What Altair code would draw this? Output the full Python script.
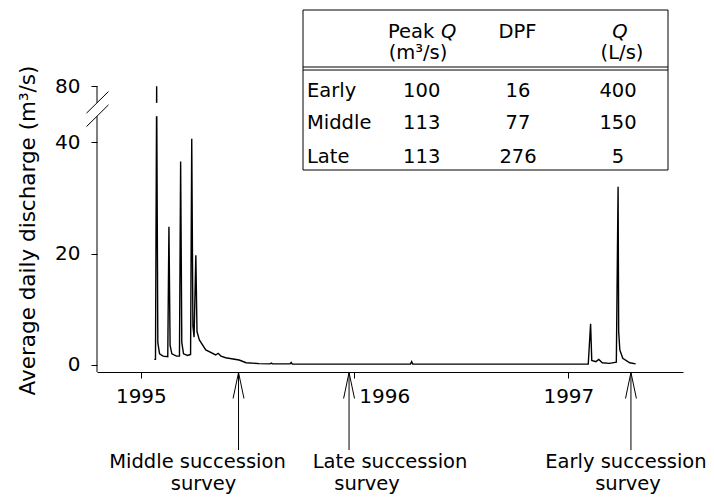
import altair as alt
import pandas as pd

# ---------------- data ----------------
dates = [
    "1995-01-24", "1995-01-26", "1995-01-28", "1995-01-30", "1995-02-02", "1995-02-08",
    "1995-02-16", "1995-02-18", "1995-02-20", "1995-02-23", "1995-03-03", "1995-03-08",
    "1995-03-10", "1995-03-12", "1995-03-15", "1995-03-22", "1995-03-27", "1995-03-29",
    "1995-03-31", "1995-04-02", "1995-04-05", "1995-04-07", "1995-04-11", "1995-04-22",
    "1995-05-09", "1995-05-13", "1995-05-18", "1995-05-26", "1995-06-18", "1995-06-30",
    "1995-07-22", "1995-08-10", "1995-08-12", "1995-08-14", "1995-09-13", "1995-09-15",
    "1995-09-17", "1996-04-06", "1996-04-08", "1996-04-10", "1997-02-04", "1997-02-08",
    "1997-02-10", "1997-02-17", "1997-02-22", "1997-02-28", "1997-03-12", "1997-03-24",
    "1997-03-27", "1997-03-28", "1997-03-30", "1997-04-04", "1997-04-16", "1997-04-26",
]
discharge = [
    1.0, 1.0, 80.0, 4.0, 2.0, 1.6,
    1.5, 24.8, 3.5, 2.0, 1.6, 1.6,
    36.5, 4.0, 2.0, 1.7, 1.9, 40.6,
    7.0, 5.0, 19.7, 6.0, 4.5, 2.7,
    1.8, 2.1, 1.6, 1.3, 0.9, 0.4,
    0.25, 0.2, 0.35, 0.2, 0.2, 0.45,
    0.15, 0.15, 0.6, 0.15, 0.15, 7.4,
    0.8, 0.6, 1.0, 0.4, 0.3, 0.5,
    32.0, 6.0, 2.7, 1.2, 0.4, 0.2,
]
survey_names = ["Middle", "Late", "Early"]
survey_dates = ["1995-06-17", "1995-12-23", "1997-04-18"]
year_ticks = [1995, 1996, 1997]
y_ticks = [0, 20, 40, 80]
table_rows = ["Early", "Middle", "Late"]
peak_q = [100, 113, 113]
dpf = [16, 77, 276]
base_q = [400, 150, 5]

# ---------------- layout / style ----------------
FONT = "DejaVu Sans"
W, H = 586, 362
BREAK_LO, BREAK_HI, BREAK_TOP = 45, 80, 50   # values above BREAK_LO are compressed


def disp(v):
    return v if v <= BREAK_LO else BREAK_LO + (v - BREAK_LO) * (BREAK_TOP - BREAK_LO) / (BREAK_HI - BREAK_LO)


calc_expr = (f"datum.q <= {BREAK_LO} ? datum.q : {BREAK_LO} + (datum.q - {BREAK_LO}) * "
             f"{(BREAK_TOP - BREAK_LO) / (BREAK_HI - BREAK_LO)}")

label_map = " : ".join([f"datum.value == {disp(v)} ? '{v}'" for v in y_ticks]) + " : ''"

xscale = alt.Scale(type="utc",
                   domain=[alt.DateTime(year=1994, month=10, date=18, utc=True),
                           alt.DateTime(year=1997, month=7, date=16, utc=True)])
xaxis = alt.Axis(values=[alt.DateTime(year=y, month=1, date=1, utc=True) for y in year_ticks],
                 labelExpr="utcFormat(datum.value, '%Y')", title=None, grid=False,
                 tickSize=6, labelPadding=8, labelFlush=False,
                 labelOffset={"condition": {"test": "utcyear(datum.value) == 1996", "value": 30}, "value": 0})
yscale = alt.Scale(domain=[-1.257, 63.7], nice=False, zero=False)
yaxis = alt.Axis(values=[disp(v) for v in y_ticks], labelExpr=label_map, domain=False, grid=False,
                 tickSize=6, labelPadding=11, title="Average daily discharge (m³/s)",
                 titleX=-69, titleY=220, titleAngle=270, titleAlign="center", titleBaseline="middle")


def X(f):
    return alt.X(f, type="temporal", scale=xscale, axis=xaxis)


def Y(f):
    return alt.Y(f, type="quantitative", scale=yscale, axis=yaxis)


df = pd.DataFrame({"date": dates, "q": discharge})

line = alt.Chart(df).transform_calculate(d=calc_expr).mark_line(
    color="black", strokeWidth=1.4).encode(x=X("date"), y=Y("d"))

# gap in the first peak at the axis break
mask = alt.Chart(pd.DataFrame({"start": ["1995-01-20"], "end": ["1995-02-05"],
                               "lo": [44.64], "hi": [47.04]})).mark_rect(color="white").encode(
    x=X("start"), x2="end:T", y=Y("lo"), y2="hi")

# y axis line in two pieces with break marks
yline = alt.Chart(pd.DataFrame({"a": [BREAK_TOP, 44.64], "b": [47.04, -1.257]})).mark_rule(
    color="black", strokeWidth=1).encode(x=alt.value(0), y=Y("a"), y2="b")
slashes = alt.Chart(pd.DataFrame({"ya": [45.19, 42.78], "yb": [49.07, 46.68]})).mark_rule(
    color="black", strokeWidth=1).encode(x=alt.value(-10.5), x2=alt.value(11.5), y=Y("ya"), y2="yb")

# survey arrows
sv = pd.DataFrame({"name": survey_names, "date": survey_dates})
sv["line1"] = sv["name"] + " succession"
sv["line2"] = "survey"
arrow_shaft = alt.Chart(sv).mark_rule(color="black", strokeWidth=1).encode(
    x=X("date"), y=alt.value(363), y2=alt.value(440))
arrow_head = alt.Chart(sv).mark_point(shape="M -0.42 1 L 0 -1 L 0.42 1", filled=False,
                                      color="black", strokeWidth=1, size=676, opacity=1).encode(
    x=X("date"), y=alt.value(375.5))

SF = 19.5
dx1 = {"Middle": -41, "Late": 41, "Early": -5}
dx2 = {"Middle": -35, "Late": 18, "Early": -3}
survey_text = []
for nm in survey_names:
    base = alt.Chart(sv).transform_filter(alt.datum.name == nm)
    survey_text.append(base.mark_text(font=FONT, fontSize=SF, color="black", dx=dx1[nm],
                                      baseline="middle").encode(x=X("date"), y=alt.value(452), text="line1:N"))
    survey_text.append(base.mark_text(font=FONT, fontSize=SF, color="black", dx=dx2[nm],
                                      baseline="middle").encode(x=X("date"), y=alt.value(474), text="line2:N"))

# inset table
one = pd.DataFrame({"k": [0]})
tbl = [
    alt.Chart(one).mark_rect(fill="white", stroke="black", strokeWidth=1).encode(
        x=alt.value(206), x2=alt.value(571), y=alt.value(0), y2=alt.value(160)),
    alt.Chart(one).mark_rule(color="black", strokeWidth=1).encode(
        x=alt.value(206), x2=alt.value(571), y=alt.value(57)),
    alt.Chart(one).mark_rule(color="black", strokeWidth=1).encode(
        x=alt.value(206), x2=alt.value(571), y=alt.value(60)),
]
TS = 19.5


def txt(s, x, y, align="center", style="normal"):
    return alt.Chart(pd.DataFrame({"t": [s]})).mark_text(
        font=FONT, fontSize=TS, color="black", align=align, baseline="middle", fontStyle=style
    ).encode(x=alt.value(x), y=alt.value(y), text="t:N")


tbl += [
    txt("Peak", 291, 22, align="left"),
    txt("Q", 344, 22, align="left", style="italic"),
    txt("(m³/s)", 321, 43),
    txt("DPF", 420.5, 22),
    txt("Q", 523, 22, style="italic"),
    txt("(L/s)", 525, 43),
]
col_x = [324.7, 421, 521]
row_y = [80.7, 113.3, 146.7]
for i, r in enumerate(table_rows):
    tbl.append(txt(r, 210, row_y[i], align="left"))
    for j, vals in enumerate([peak_q, dpf, base_q]):
        tbl.append(txt(str(vals[i]), col_x[j], row_y[i]))

chart = alt.layer(line, mask, yline, slashes, arrow_shaft, arrow_head, *survey_text, *tbl).properties(
    width=W, height=H,
    autosize=alt.AutoSizeParams(type="none"),
    padding={"left": 97, "top": 10, "right": 31, "bottom": 126},
    background="white",
).configure_view(stroke=None).configure_axis(
    labelFont=FONT, labelFontSize=20, labelColor="black",
    titleFont=FONT, titleFontSize=21.5, titleColor="black", titleFontWeight="normal",
    domainColor="black", tickColor="black", domainWidth=1, tickWidth=1,
)

chart.save("out.html", embed_options={"renderer": "svg", "actions": False})
